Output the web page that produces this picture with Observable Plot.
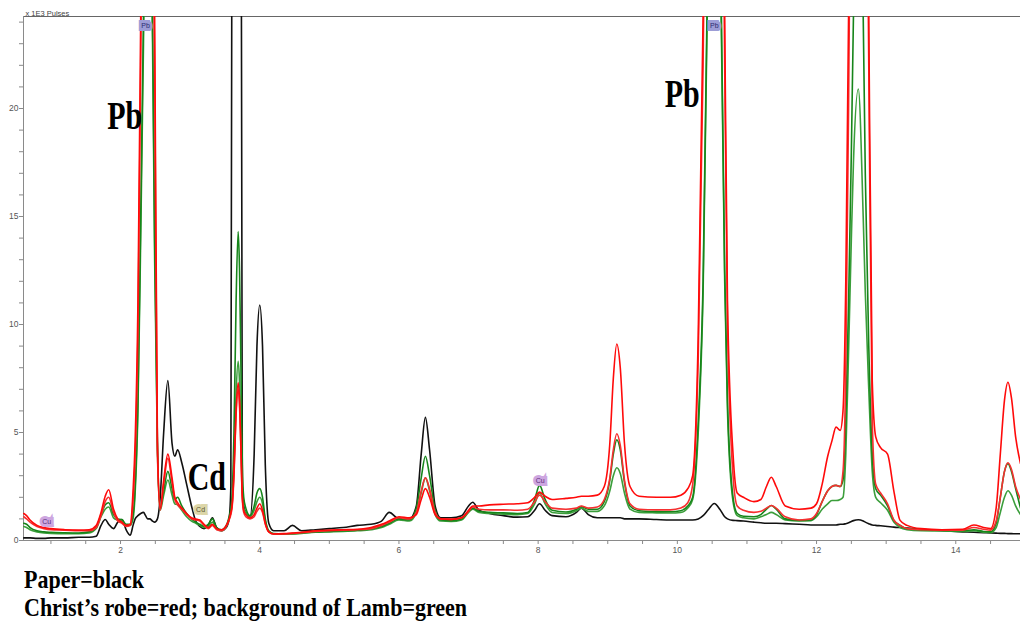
<!DOCTYPE html>
<html><head><meta charset="utf-8">
<script src="https://cdn.jsdelivr.net/npm/d3@7"></script>
<script src="https://cdn.jsdelivr.net/npm/@observablehq/plot@0.6"></script>
<style>
html,body{margin:0;padding:0;background:#fff;overflow:hidden;width:1020px;height:621px}
#chart svg{display:block}
#caption{font-family:"Liberation Serif","Times New Roman",serif;font-weight:bold;font-size:22px;line-height:25px;padding:5px 0 0 24px;transform:scaleY(1.12);transform-origin:0 0;color:#000;white-space:nowrap}
</style></head><body>
<div id="chart"></div>
<div id="caption"><div>Paper=black</div><div>Christ’s robe=red; background of Lamb=green</div></div>
<script>
// Energy grid (keV)
const energy = [
  0.61,0.65,0.70,0.80,0.90,1.00,1.20,1.40,1.55,1.65,
  1.72,1.78,1.83,1.90,1.96,2.02,2.08,2.14,2.18,2.21,
  2.25,2.29,2.33,2.36,2.39,2.42,2.46,2.49,2.53,2.57,
  2.62,2.68,2.74,2.78,2.82,2.88,2.95,3.02,3.08,3.14,
  3.20,3.26,3.32,3.38,3.45,3.52,3.56,3.585,3.605,3.63,
  3.66,3.69,3.71,3.73,3.75,3.77,3.80,3.86,3.92,3.96,
  4.00,4.04,4.08,4.13,4.20,4.35,4.47,4.60,4.80,5.00,
  5.20,5.40,5.60,5.75,5.86,6.00,6.15,6.25,6.32,6.38,
  6.44,6.52,6.60,6.75,6.90,7.00,7.06,7.15,7.30,7.50,
  7.70,7.85,7.95,8.02,8.10,8.20,8.40,8.55,8.62,8.72,
  8.85,8.95,9.03,9.08,9.13,9.18,9.24,9.32,9.45,9.70,
  9.90,10.05,10.15,10.22,10.30,10.37,10.45,10.53,10.61,10.68,
  10.72,10.80,10.86,10.95,11.10,11.20,11.28,11.35,11.42,11.55,
  11.75,11.92,12.00,12.08,12.16,12.22,12.28,12.34,12.38,12.42,
  12.46,12.50,12.53,12.60,12.67,12.70,12.75,12.80,12.85,12.92,
  13.02,13.11,13.20,13.30,13.50,13.80,14.10,14.26,14.40,14.50,
  14.58,14.64,14.70,14.75,14.80,14.86,14.93
];
// Counts (x 1E3 pulses)
const paper = [
  0.12,0.12,0.12,0.10,0.10,0.12,0.12,0.15,0.15,0.20,
  0.70,0.97,0.75,0.55,0.85,0.97,0.50,0.25,0.70,1.00,
  1.15,1.25,1.30,1.15,1.00,1.00,0.90,0.85,1.00,2.00,
  5.00,7.40,4.50,3.90,4.20,3.60,2.60,1.60,0.90,0.65,
  0.55,0.70,1.05,0.60,0.45,0.60,1.00,2.5,40,70,
  80,80,70,40,2.5,1.6,1.3,1.1,4.0,9.0,
  10.9,9.0,3.5,0.8,0.45,0.45,0.70,0.45,0.50,0.55,
  0.60,0.70,0.75,0.90,1.30,1.00,1.00,1.60,4.00,5.70,
  4.20,1.60,1.05,1.05,1.15,1.60,1.77,1.40,1.25,1.15,
  1.08,1.10,1.40,1.70,1.40,1.15,1.10,1.30,1.50,1.20,
  1.05,1.05,1.05,1.05,1.05,1.05,1.00,1.00,1.00,0.97,
  0.95,0.95,0.95,0.95,1.00,1.15,1.45,1.71,1.45,1.10,
  1.00,0.93,0.92,0.90,0.85,0.82,0.80,0.80,0.80,0.78,
  0.75,0.72,0.72,0.72,0.72,0.72,0.72,0.75,0.75,0.78,
  0.82,0.88,0.92,0.96,0.90,0.85,0.78,0.72,0.70,0.68,
  0.65,0.62,0.60,0.58,0.52,0.45,0.40,0.38,0.36,0.35,
  0.34,0.33,0.33,0.32,0.32,0.31,0.31
];
const robe1 = [
  1.25,1.15,0.95,0.70,0.60,0.55,0.50,0.48,0.50,0.70,
  1.30,2.05,2.35,1.45,1.00,0.85,0.70,0.75,2.30,4.60,
  11.0,24.3,40,48,51,48,33,24.3,4.6,1.5,
  2.8,4.0,2.9,2.0,1.75,1.5,1.25,1.05,1.0,0.95,
  0.75,0.6,0.75,0.55,0.5,0.7,1.0,1.3,1.7,3.2,
  6.0,7.3,6.5,4.3,2.0,1.4,1.2,1.05,1.2,1.5,
  1.7,1.4,0.8,0.4,0.3,0.32,0.35,0.38,0.45,0.48,
  0.5,0.52,0.6,0.75,0.9,1.1,1.05,1.2,1.9,2.4,
  2.0,1.2,1.0,0.98,1.05,1.4,1.6,1.6,1.65,1.68,
  1.7,1.75,2.0,2.24,2.05,1.9,1.95,2.0,2.05,2.05,
  2.1,2.5,4.5,7.5,9.1,8.0,4.5,2.5,2.05,2.0,
  2.0,2.1,2.4,3.0,9.5,24.3,50,69,50,24.3,
  11.1,4.0,2.2,2.0,1.8,1.9,2.5,2.93,2.5,1.6,
  1.45,1.5,1.7,2.6,3.9,4.6,5.25,5.1,6.0,12,
  24.3,40,55,70,55,45,24.3,7.4,4.8,4.3,
  4.0,2.3,0.93,0.7,0.55,0.5,0.52,0.72,0.6,0.55,
  1.5,4.0,6.5,7.33,6.6,4.8,3.56
];
const robe2 = [
  1.10,1.00,0.85,0.65,0.55,0.50,0.48,0.45,0.45,0.60,
  1.15,1.80,2.00,1.30,0.90,0.80,0.65,0.70,1.80,3.80,
  9.5,22,37,45,48,45,31,22,4.0,1.4,
  2.6,3.8,2.7,1.9,1.65,1.45,1.2,1.0,0.95,0.9,
  0.7,0.55,0.7,0.5,0.45,0.65,0.95,1.2,1.6,3.0,
  5.8,7.0,6.2,4.1,1.9,1.3,1.1,1.0,1.1,1.35,
  1.5,1.3,0.75,0.4,0.3,0.3,0.33,0.36,0.42,0.45,
  0.48,0.5,0.55,0.7,0.85,1.05,1.0,1.3,2.3,2.9,
  2.4,1.3,1.0,0.98,1.05,1.35,1.55,1.45,1.42,1.42,
  1.4,1.45,1.8,2.1,1.8,1.5,1.45,1.5,1.6,1.5,
  1.55,1.9,2.9,4.2,4.94,4.4,2.8,1.7,1.45,1.42,
  1.42,1.5,1.75,2.6,8.5,22,46,65,46,22,
  10,3.0,1.6,1.4,1.3,1.35,1.5,1.62,1.5,1.1,
  0.95,1.0,1.25,1.8,2.3,2.5,2.55,2.5,3.2,8,
  20,36,50,65,50,40,22,5.5,2.6,2.2,
  1.7,0.95,0.7,0.55,0.5,0.48,0.48,0.6,0.52,0.48,
  0.9,2.0,3.2,3.6,3.3,2.5,1.9
];
const lamb1 = [
  0.80,0.75,0.60,0.45,0.40,0.38,0.36,0.35,0.40,0.60,
  1.20,1.65,1.75,1.20,1.00,0.97,0.75,0.75,1.20,2.50,
  6.5,15,24.3,33,37,33,24.3,14,4.6,1.5,
  2.3,3.2,2.4,1.9,2.0,1.6,1.25,1.0,0.85,0.75,
  0.65,0.75,1.0,0.6,0.5,0.7,1.1,1.5,2.2,5.0,
  11.0,14.3,12.5,8.0,3.5,2.0,1.5,1.15,1.6,2.2,
  2.4,2.0,1.0,0.45,0.32,0.3,0.32,0.35,0.4,0.42,
  0.45,0.48,0.55,0.65,0.8,1.0,0.95,1.5,2.9,3.9,
  3.0,1.4,0.95,0.92,1.0,1.35,1.5,1.35,1.3,1.28,
  1.25,1.3,1.9,2.55,1.9,1.4,1.32,1.45,1.57,1.45,
  1.45,1.8,2.8,4.0,4.66,4.2,2.7,1.6,1.38,1.34,
  1.33,1.38,1.6,2.0,5.5,12,30,41,30,12.5,
  6.5,2.0,1.25,1.12,1.1,1.2,1.45,1.62,1.45,1.0,
  0.93,0.95,1.2,1.8,2.3,2.5,2.55,2.5,2.8,5.5,
  11,18,24.3,32,24.3,17,9,4,2.4,2.1,
  1.6,0.93,0.7,0.55,0.5,0.48,0.45,0.5,0.42,0.4,
  0.8,2.0,3.2,3.56,3.2,2.4,1.5
];
const lamb2 = [
  0.65,0.60,0.50,0.40,0.35,0.33,0.32,0.32,0.35,0.55,
  1.10,1.45,1.55,1.05,0.95,0.90,0.70,0.70,1.00,2.20,
  6.0,14,23,31,35,31,23,13,4.2,1.4,
  2.1,2.8,2.1,1.7,1.65,1.4,1.1,0.9,0.8,0.7,
  0.6,0.65,0.85,0.55,0.45,0.65,1.0,1.3,1.8,3.5,
  6.8,8.3,7.3,4.8,2.2,1.5,1.3,1.1,1.4,1.8,
  2.0,1.7,0.9,0.42,0.3,0.3,0.3,0.33,0.38,0.4,
  0.42,0.45,0.5,0.6,0.75,0.95,0.9,1.3,2.2,2.9,
  2.3,1.2,0.9,0.88,0.95,1.3,1.45,1.3,1.25,1.22,
  1.2,1.25,1.7,2.2,1.7,1.3,1.25,1.38,1.5,1.35,
  1.35,1.6,2.3,3.0,3.37,3.1,2.2,1.45,1.3,1.28,
  1.27,1.3,1.5,1.9,5.0,11.5,29,39,29,12,
  6,1.8,1.15,1.05,1.0,1.1,1.2,1.3,1.2,0.95,
  0.9,0.92,1.1,1.45,1.7,1.85,1.85,1.9,2.0,4.0,
  8.75,14,17.5,20.9,15,11.5,7,3.2,2.0,1.75,
  1.4,0.85,0.6,0.5,0.45,0.44,0.42,0.45,0.38,0.36,
  0.6,1.3,2.0,2.3,2.1,1.6,1.2
];

const seriesNames = ["Paper", "Lamb (low)", "Lamb (high)", "Robe (low)", "Robe (high)"];
const seriesValues = [paper, lamb2, lamb1, robe2, robe1];

// Element marker boxes
const markerLabels = ["Cu", "Pb", "Cd", "Cu", "Pb"];
const markerEnergy = [0.94, 2.36, 3.15, 8.03, 10.53];
const markerLevel = [0.88, 23.85, 1.41, 2.78, 23.85];

// Large annotation labels
const bigLabels = ["Pb", "Pb", "Cd"];
const bigLabelEnergy = [2.06, 10.07, 3.24];
const bigLabelLevel = [19.07, 20.05, 2.36];

// Axis ticks
const xTicks = d3.range(1, 15, 0.5);
const xTickLabels = [2, 4, 6, 8, 10, 12, 14];
const yTicks = d3.range(0, 25, 1);
const yTickLabels = [0, 5, 10, 15, 20];

// Styles
const seriesColors = ["#111111", "#3b9e3b", "#16851a", "#f53030", "#ff0a0a"];
const markerStyle = {
  Cu: {box: "#cda6e0", ink: "#5a2e7a"},
  Pb: {box: "#9d9dd6", ink: "#2b2b70"},
  Cd: {box: "#dcd6a8", ink: "#5a5530"}
};
const xDomain = [0.606, 14.93];
const yDomain = [0, 24.26];

seriesValues.forEach((s, k) => {
  if (s.length !== energy.length) throw new Error(seriesNames[k] + " length " + s.length + " vs " + energy.length);
});

const rows = seriesNames.flatMap((name, k) =>
  energy.map((e, i) => ({name, e, v: seriesValues[k][i]})));

const markerIdx = d3.range(markerLabels.length);
const markerMarks = Object.keys(markerStyle).map(lab =>
  Plot.text(markerIdx.filter(i => markerLabels[i] === lab), {
    x: i => markerEnergy[i], y: i => markerLevel[i], text: i => markerLabels[i],
    fontSize: 7, fill: markerStyle[lab].ink, stroke: markerStyle[lab].box,
    strokeWidth: 6, strokeLinejoin: "miter", lineAnchor: "middle"
  }));

const bigIdx = d3.range(bigLabels.length);

const chart = Plot.plot({
  width: 1020, height: 560,
  marginLeft: 23, marginRight: 0, marginTop: 16, marginBottom: 20,
  x: {domain: xDomain},
  y: {domain: yDomain},
  color: {domain: seriesNames, range: seriesColors},
  style: {fontFamily: "'Liberation Sans', Arial, sans-serif", fontSize: "8.5px", color: "#555", background: "#fff", overflow: "visible"},
  marks: [
    Plot.ruleY([yDomain[0]], {stroke: "#8a8a8a"}),
    Plot.ruleY([yDomain[1]], {stroke: "#666"}),
    Plot.ruleX([xDomain[0]], {stroke: "#8a8a8a"}),
    Plot.axisX({ticks: xTicks, tickFormat: d => xTickLabels.includes(d) ? String(d) : "", tickSize: 4, tickPadding: 2, label: null, stroke: "#8a8a8a", fill: "#555"}),
    Plot.axisY({ticks: yTicks, tickFormat: d => yTickLabels.includes(d) ? String(d) : "", tickSize: 4, tickPadding: 1, label: null, stroke: "#8a8a8a", fill: "#555"}),
    Plot.line(rows, {x: "e", y: "v", z: "name", stroke: "name", strokeWidth: 1.6, curve: "monotone-x", clip: true}),
    ...markerMarks,
    Plot.text(bigIdx, {
      x: i => bigLabelEnergy[i], y: i => bigLabelLevel[i], text: i => bigLabels[i],
      fontFamily: "'Liberation Serif', 'Times New Roman', serif", fontWeight: "bold", fontSize: 30,
      lineAnchor: "bottom", fill: "#000"
    }),
    Plot.text(["x 1E3 Pulses"], {frameAnchor: "top-left", textAnchor: "start", lineAnchor: "bottom", dx: 2, dy: -1, fontSize: 7.5, fill: "#444"})
  ]
});
document.getElementById("chart").append(chart);

// stretch big annotation labels vertically like the original figure
chart.querySelectorAll("text").forEach(t => {
  if (getComputedStyle(t).fontSize !== "30px") return;
  const tr = t.getAttribute("transform");
  if (tr) t.setAttribute("transform", tr + " scale(1,1.3)");
  else {
    const x = t.getAttribute("x") || 0, y = t.getAttribute("y") || 0;
    t.setAttribute("transform", `translate(${x},${y}) scale(1,1.3)`);
    t.removeAttribute("x"); t.removeAttribute("y");
  }
});
</script></body></html>
